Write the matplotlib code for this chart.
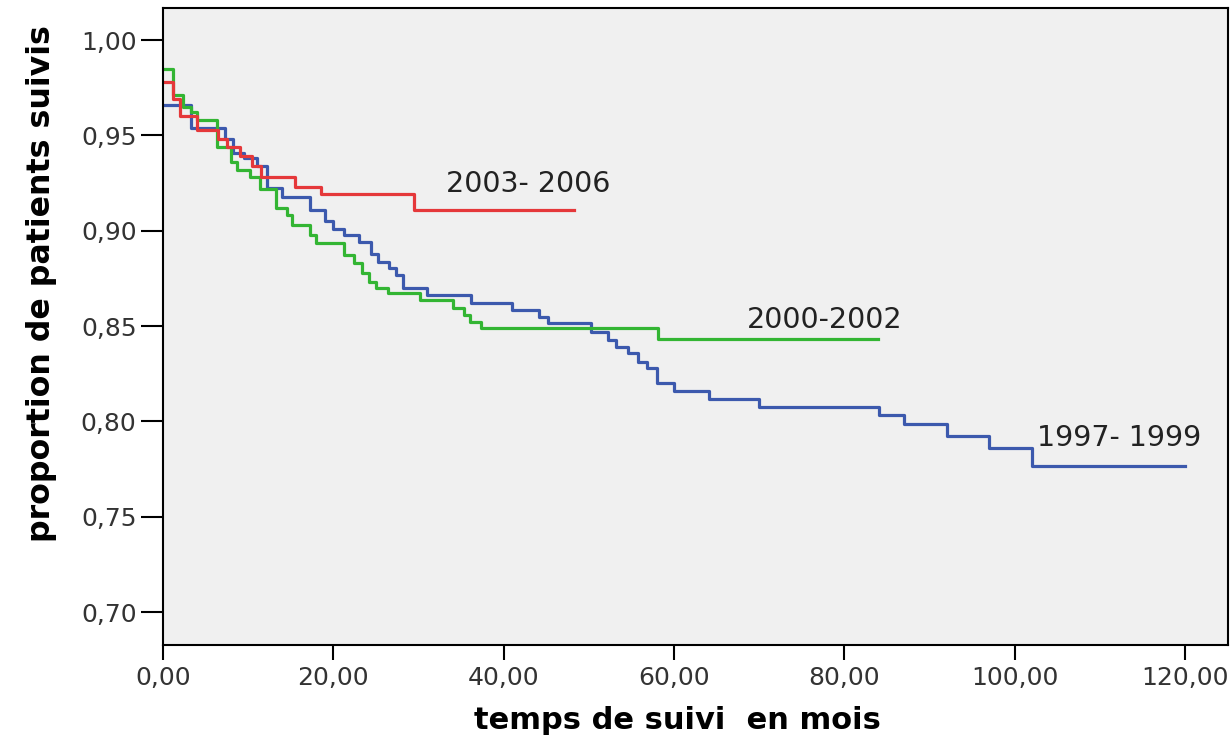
import matplotlib
matplotlib.use("Agg")
import matplotlib.pyplot as plt

# Kaplan-Meier steps: drop times (months) and proportion after each drop
red_t = [0, 1.2, 2.0, 4.0, 6.5, 7.5, 9.0, 10.5, 11.5, 15.5, 18.5, 29.5, 48.2]
red_s = [0.978, 0.969, 0.960, 0.953, 0.948, 0.944, 0.939, 0.934, 0.928, 0.923, 0.919, 0.911, 0.911]

green_t = [0, 1.2, 2.3, 3.3, 4.0, 6.3, 8.0, 8.7, 10.2, 11.4, 13.3, 14.6, 15.2, 17.3, 18.0,
           21.2, 22.4, 23.4, 24.2, 25.0, 26.4, 30.2, 34.0, 35.3, 36.0, 37.3, 58.1, 83.9]
green_s = [0.985, 0.971, 0.965, 0.962, 0.958, 0.944, 0.936, 0.932, 0.928, 0.922, 0.912, 0.908,
           0.903, 0.8977, 0.8935, 0.887, 0.883, 0.878, 0.873, 0.870, 0.8673, 0.8637, 0.8595,
           0.8558, 0.852, 0.849, 0.8432, 0.8432]

blue_t = [0, 3.3, 7.3, 8.2, 9.5, 11.0, 12.2, 14.0, 17.3, 19.0, 20.0, 21.2, 23.0, 24.4, 25.2,
          26.5, 27.3, 28.2, 31.0, 36.1, 41.0, 44.1, 45.2, 50.2, 52.2, 53.2, 54.6, 55.8, 56.8,
          58.0, 60.0, 64.1, 70.0, 84.0, 87.0, 92.0, 97.0, 102.0, 120.0]
blue_s = [0.966, 0.954, 0.948, 0.941, 0.938, 0.934, 0.9224, 0.9177, 0.911, 0.905, 0.901,
          0.8977, 0.894, 0.888, 0.8836, 0.8804, 0.8768, 0.870, 0.8663, 0.862, 0.8584, 0.8547,
          0.8516, 0.8469, 0.8427, 0.839, 0.8359, 0.8312, 0.828, 0.820, 0.816, 0.8117, 0.8075,
          0.8034, 0.7986, 0.7923, 0.786, 0.7766, 0.7766]

labels = ["2003- 2006", "2000-2002", "1997- 1999"]
label_pos = [(33.2, 0.9245), (68.5, 0.8532), (102.6, 0.7913)]

x_ticks = [0, 20, 40, 60, 80, 100, 120]
x_tick_labels = ["0,00", "20,00", "40,00", "60,00", "80,00", "100,00", "120,00"]
y_ticks = [0.70, 0.75, 0.80, 0.85, 0.90, 0.95, 1.00]
y_tick_labels = ["0,70", "0,75", "0,80", "0,85", "0,90", "0,95", "1,00"]

fig = plt.figure(figsize=(12.31, 7.42), dpi=100)
ax = fig.add_axes([0.1324, 0.1307, 0.865, 0.8585])
ax.set_facecolor("#f0f0f0")

ax.step(blue_t, blue_s, where="post", color="#3c59ad", lw=2.3)
ax.step(green_t, green_s, where="post", color="#33b533", lw=2.3)
ax.step(red_t, red_s, where="post", color="#e5383a", lw=2.3)

for txt, (lx, ly) in zip(labels, label_pos):
    ax.text(lx, ly, txt, fontsize=20.5, family="DejaVu Sans", color="#222222",
            va="center", ha="left")

ax.set_xlim(0, 125)
ax.set_ylim(0.6827, 1.0168)
ax.set_xticks(x_ticks)
ax.set_xticklabels(x_tick_labels, family="DejaVu Sans", fontsize=18, color="#333333")
ax.set_yticks(y_ticks)
ax.set_yticklabels(y_tick_labels, family="DejaVu Sans", fontsize=18, color="#333333")
ax.tick_params(axis="y", length=16, width=1.5, pad=3)
ax.tick_params(axis="x", length=11, width=1.5, pad=4)

for sp in ax.spines.values():
    sp.set_linewidth(1.5)

ax.set_xlabel("temps de suivi  en mois", fontsize=22, fontweight="bold", family="DejaVu Sans")
ax.set_ylabel("proportion de patients suivis", fontsize=22.8, fontweight="bold",
              family="DejaVu Sans")
ax.xaxis.set_label_coords(0.483, -0.096)
ax.yaxis.set_label_coords(-0.0995, 0.567)

fig.savefig("out.png", dpi=100)
